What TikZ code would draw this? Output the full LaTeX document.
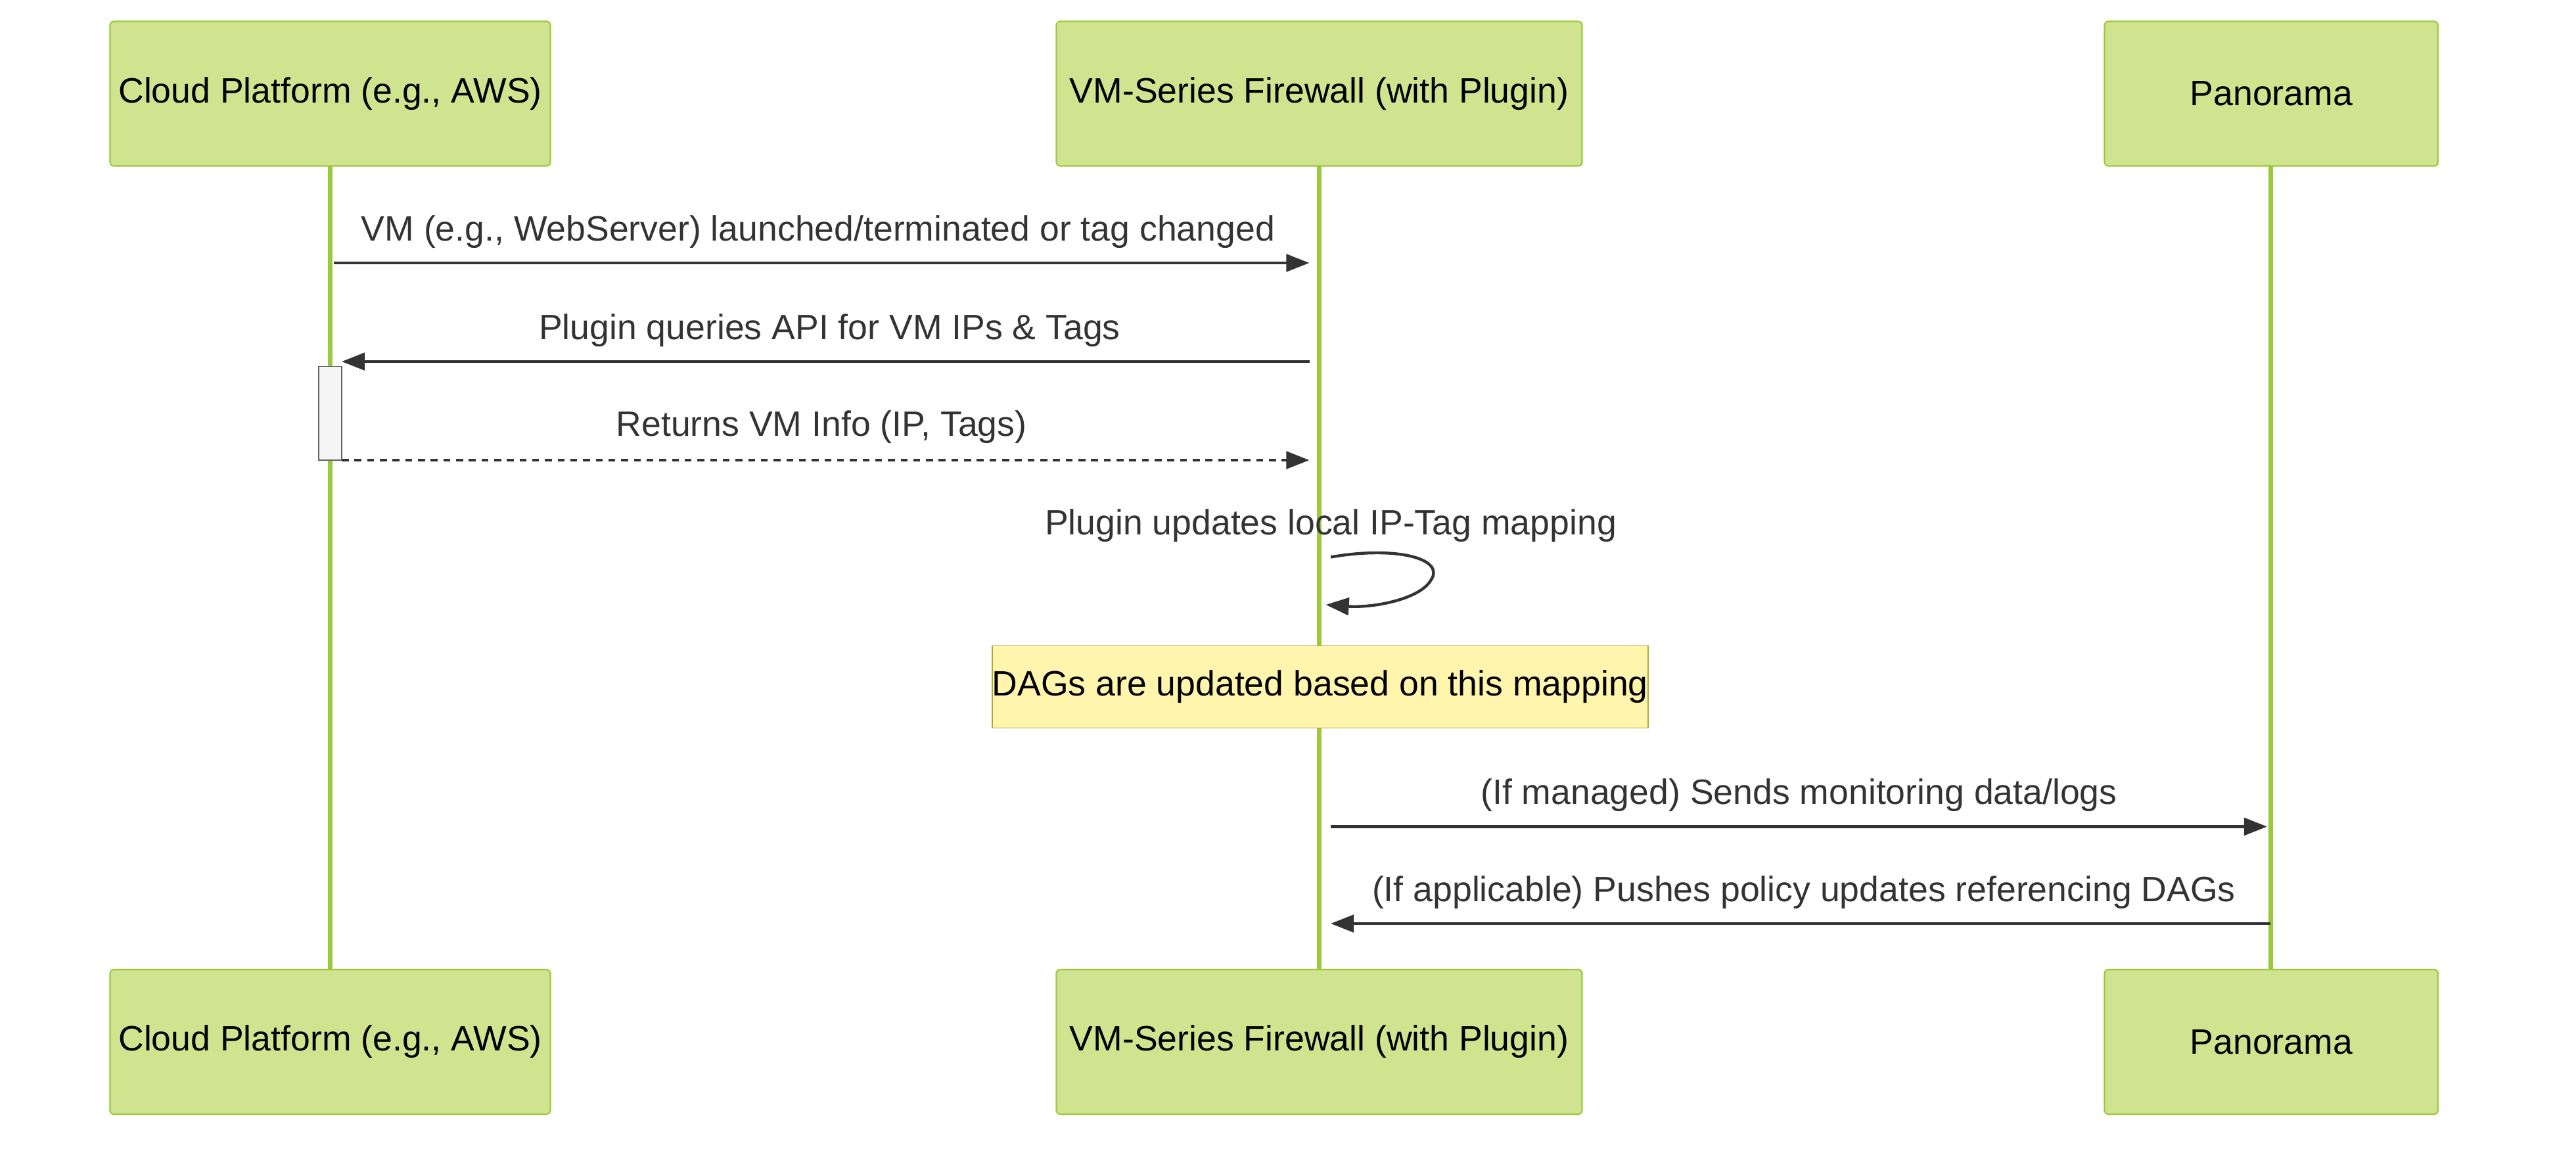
\documentclass[tikz,border=0pt]{standalone}
\usepackage{fontspec}
\setmainfont{Liberation Sans}
\usetikzlibrary{arrows.meta}
\definecolor{actfill}{HTML}{D0E48F}
\definecolor{actdraw}{HTML}{9BC93C}
\definecolor{txt}{HTML}{333333}
\definecolor{notefill}{HTML}{FFF5AD}
\definecolor{notedraw}{HTML}{AAAA33}
\begin{document}
\begin{tikzpicture}[x=0.05cm,y=-0.05cm,
  actor/.style={draw=actdraw,fill=actfill,line width=1.2pt,rounded corners=3pt,inner sep=0pt,font=\fontsize{30.5}{36}\selectfont},
  life/.style={draw=actdraw,line width=4pt},
  msg/.style={draw=txt,line width=2.5pt,-{Triangle[length=20pt,width=15pt]}},
  lab/.style={text=txt,font=\fontsize{30.5}{36}\selectfont}]
\useasboundingbox (0,0) rectangle (1568,700);
% lifelines
\coordinate (c1) at (201,101); \coordinate (c2) at (201,590);
\coordinate (v1) at (803,101); \coordinate (v2) at (803,590);
\coordinate (p1) at (1382,101); \coordinate (p2) at (1382,590);
\draw[life] (c1) -- (c2);
\draw[life] (v1) -- (v2);
\draw[life] (p1) -- (p2);
% actors
\node[actor,minimum width=268*0.05cm,minimum height=88*0.05cm] (ct) at (201,57) {Cloud Platform (e.g., AWS)};
\node[actor,minimum width=320*0.05cm,minimum height=88*0.05cm] (vt) at (803,57) {VM-Series Firewall (with Plugin)};
\node[actor,minimum width=203*0.05cm,minimum height=88*0.05cm] (pt) at (1382.5,57) {Panorama};
\node[actor,minimum width=268*0.05cm,minimum height=88*0.05cm] (cb) at (201,634) {Cloud Platform (e.g., AWS)};
\node[actor,minimum width=320*0.05cm,minimum height=88*0.05cm] (vb) at (803,634) {VM-Series Firewall (with Plugin)};
\node[actor,minimum width=203*0.05cm,minimum height=88*0.05cm] (pb) at (1382.5,634) {Panorama};
% activation
\node[draw=gray!80!black,fill=gray!8,line width=1pt,minimum width=14*0.05cm,minimum height=57*0.05cm,inner sep=0pt] (act) at (201,251.5) {};
% messages
\coordinate (m1a) at (203,160); \coordinate (m1b) at (797,160);
\draw[msg] (m1a) -- (m1b);
\node[lab] (l1) at (498,141) {VM (e.g., WebServer) launched/terminated or tag changed};
\coordinate (m2a) at (797,220); \coordinate (m2b) at (208,220);
\draw[msg] (m2a) -- (m2b);
\node[lab] (l2) at (505,201) {Plugin queries API for VM IPs \& Tags};
\coordinate (m3a) at (208,280); \coordinate (m3b) at (797,280);
\draw[msg,dash pattern=on 6pt off 5pt] (m3a) -- (m3b);
\node[lab] (l3) at (500,260) {Returns VM Info (IP, Tags)};
\node[lab] (l4) at (810,320) {Plugin updates local IP-Tag mapping};
\coordinate (s1) at (810,339); \coordinate (s2) at (807,368);
\draw[msg] (s1) .. controls (850,332) and (880,340) .. (871,353) .. controls (864,365) and (835,370) .. (s2);
\node[draw=notedraw,fill=notefill,line width=1pt,minimum width=389*0.05cm,minimum height=50*0.05cm,inner sep=0pt,font=\fontsize{30.5}{36}\selectfont] (note) at (803.5,418) {DAGs are updated based on this mapping};
\coordinate (m5a) at (810,503); \coordinate (m5b) at (1380,503);
\draw[msg] (m5a) -- (m5b);
\node[lab] (l5) at (1095,484) {(If managed) Sends monitoring data/logs};
\coordinate (m6a) at (1382,562); \coordinate (m6b) at (810,562);
\draw[msg] (m6a) -- (m6b);
\node[lab] (l6) at (1098,543) {(If applicable) Pushes policy updates referencing DAGs};
\end{tikzpicture}
\end{document}
